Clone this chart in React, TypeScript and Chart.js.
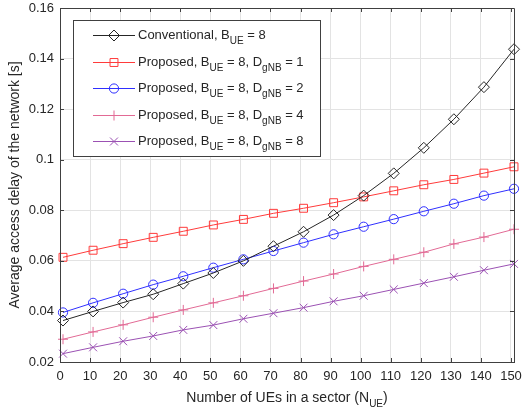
import React, { useEffect, useRef } from "react";
import { Chart, registerables } from "chart.js";

Chart.register(...registerables);

const xValues = [1, 11, 21, 31, 41, 51, 61, 71, 81, 91, 101, 111, 121, 131, 141, 151];
const conventional = [0.0364, 0.0400, 0.0435, 0.0468, 0.0510, 0.0552, 0.0600, 0.0658, 0.0715, 0.0781, 0.0858, 0.0946, 0.1047, 0.1160, 0.1287, 0.1437];
const proposedD1 = [0.0614, 0.0642, 0.0668, 0.0693, 0.0717, 0.0742, 0.0764, 0.0788, 0.0808, 0.0830, 0.0853, 0.0877, 0.0901, 0.0922, 0.0947, 0.0972];
const proposedD2 = [0.0396, 0.0434, 0.0470, 0.0506, 0.0539, 0.0573, 0.0606, 0.0639, 0.0672, 0.0705, 0.0735, 0.0765, 0.0796, 0.0826, 0.0858, 0.0885];
const proposedD4 = [0.0290, 0.0319, 0.0347, 0.0377, 0.0406, 0.0434, 0.0462, 0.0491, 0.0520, 0.0548, 0.0578, 0.0606, 0.0634, 0.0667, 0.0694, 0.0725];
const proposedD8 = [0.0233, 0.0258, 0.0282, 0.0303, 0.0327, 0.0346, 0.0371, 0.0393, 0.0415, 0.0440, 0.0462, 0.0487, 0.0512, 0.0537, 0.0563, 0.0588];

const xTicks = [0, 10, 20, 30, 40, 50, 60, 70, 80, 90, 100, 110, 120, 130, 140, 150];
const yTicks = [0.02, 0.04, 0.06, 0.08, 0.1, 0.12, 0.14, 0.16];

const xTitle: [string, string, string] = ["Number of UEs in a sector (N", "UE", ")"];
const yTitle = "Average access delay of the network [s]";

// legend label pieces: [text, isSubscript]
const legendLabels: Array<Array<[string, boolean]>> = [
  [["Conventional, B", false], ["UE", true], [" = 8", false]],
  [["Proposed, B", false], ["UE", true], [" = 8, D", false], ["gNB", true], [" = 1", false]],
  [["Proposed, B", false], ["UE", true], [" = 8, D", false], ["gNB", true], [" = 2", false]],
  [["Proposed, B", false], ["UE", true], [" = 8, D", false], ["gNB", true], [" = 4", false]],
  [["Proposed, B", false], ["UE", true], [" = 8, D", false], ["gNB", true], [" = 8", false]],
];

const seriesColors = ["#262626", "#ff3b3b", "#2f2fff", "#e26a95", "#9b51b3"];
const seriesStyles = ["rectRot", "rect", "circle", "cross", "crossRot"];
const seriesRadius = [5.5, 5.6, 4.6, 5, 5.6];

const FONT = "'Liberation Sans', Arial, Helvetica, sans-serif";
const TEXT = "#262626";
const AXIS = "#404040";

function drawRich(ctx: CanvasRenderingContext2D, pieces: Array<[string, boolean]>, x: number, y: number, size: number, subSize: number) {
  let cx = x;
  for (const [t, sub] of pieces) {
    ctx.font = `${sub ? subSize : size}px ${FONT}`;
    ctx.fillText(t, cx, sub ? y + 5 : y);
    cx += ctx.measureText(t).width;
  }
}

function drawMarker(ctx: CanvasRenderingContext2D, style: string, r: number, x: number, y: number, color: string) {
  ctx.save();
  ctx.strokeStyle = color;
  ctx.lineWidth = 1;
  ctx.beginPath();
  if (style === "rectRot") {
    ctx.moveTo(x, y - r);
    ctx.lineTo(x + r, y);
    ctx.lineTo(x, y + r);
    ctx.lineTo(x - r, y);
    ctx.closePath();
  } else if (style === "rect") {
    const s = r * Math.SQRT1_2;
    ctx.rect(x - s, y - s, 2 * s, 2 * s);
  } else if (style === "circle") {
    ctx.arc(x, y, r, 0, Math.PI * 2);
  } else if (style === "cross") {
    ctx.moveTo(x, y - r);
    ctx.lineTo(x, y + r);
    ctx.moveTo(x - r, y);
    ctx.lineTo(x + r, y);
  } else {
    const s = r * Math.SQRT1_2;
    ctx.moveTo(x - s, y - s);
    ctx.lineTo(x + s, y + s);
    ctx.moveTo(x - s, y + s);
    ctx.lineTo(x + s, y - s);
  }
  ctx.stroke();
  ctx.restore();
}

const decorPlugin = {
  id: "decor",
  afterDraw(chart: any) {
    const ctx: CanvasRenderingContext2D = chart.ctx;
    const area = chart.chartArea;
    const xs = chart.scales.x;
    const ys = chart.scales.y;
    ctx.save();
    // full box
    ctx.strokeStyle = AXIS;
    ctx.lineWidth = 1;
    ctx.beginPath();
    ctx.rect(Math.round(area.left) + 0.5, Math.round(area.top) + 0.5, Math.round(area.right - area.left), Math.round(area.bottom - area.top));
    ctx.stroke();
    // inward ticks
    ctx.beginPath();
    for (const v of xTicks) {
      const px = Math.round(xs.getPixelForValue(v)) + 0.5;
      ctx.moveTo(px, area.bottom);
      ctx.lineTo(px, area.bottom - 4);
      ctx.moveTo(px, area.top);
      ctx.lineTo(px, area.top + 4);
    }
    for (const v of yTicks) {
      const py = Math.round(ys.getPixelForValue(v)) + 0.5;
      ctx.moveTo(area.left, py);
      ctx.lineTo(area.left + 4, py);
      ctx.moveTo(area.right, py);
      ctx.lineTo(area.right - 4, py);
    }
    ctx.stroke();

    // x title
    ctx.fillStyle = TEXT;
    ctx.textBaseline = "alphabetic";
    ctx.textAlign = "left";
    const pieces: Array<[string, boolean]> = [[xTitle[0], false], [xTitle[1], true], [xTitle[2], false]];
    let w = 0;
    for (const [t, sub] of pieces) {
      ctx.font = `${sub ? 10 : 14}px ${FONT}`;
      w += ctx.measureText(t).width;
    }
    const cxm = (area.left + area.right) / 2;
    drawRich(ctx, pieces, cxm - w / 2, 402, 14, 10);

    // y title
    ctx.save();
    ctx.translate(19, (area.top + area.bottom) / 2);
    ctx.rotate(-Math.PI / 2);
    ctx.font = `14px ${FONT}`;
    ctx.textAlign = "center";
    ctx.fillText(yTitle, 0, 0);
    ctx.restore();

    // legend
    const lx = 73, ly = 20, lw = 247, lh = 136;
    ctx.fillStyle = "#ffffff";
    ctx.fillRect(lx, ly, lw, lh);
    ctx.strokeStyle = AXIS;
    ctx.strokeRect(lx + 0.5, ly + 0.5, lw, lh);
    const rowY = [35, 61.5, 88, 114.5, 141];
    for (let i = 0; i < legendLabels.length; i++) {
      const y = rowY[i];
      ctx.strokeStyle = seriesColors[i];
      ctx.lineWidth = 1;
      ctx.beginPath();
      ctx.moveTo(93, Math.round(y) + 0.5);
      ctx.lineTo(135, Math.round(y) + 0.5);
      ctx.stroke();
      drawMarker(ctx, seriesStyles[i], seriesRadius[i], 114, Math.round(y) + 0.5, seriesColors[i]);
      ctx.fillStyle = TEXT;
      drawRich(ctx, legendLabels[i], 138, y + 4, 13, 10);
    }
    ctx.restore();
  },
};

export default function App() {
  const ref = useRef<HTMLCanvasElement | null>(null);
  useEffect(() => {
    if (!ref.current) return;
    const seriesData = [conventional, proposedD1, proposedD2, proposedD4, proposedD8];
    const chart = new Chart(ref.current, {
      type: "line",
      data: {
        datasets: seriesData.map((vals, i) => ({
          label: "s" + i,
          data: vals.map((v, j) => ({ x: xValues[j], y: v })),
          borderColor: seriesColors[i],
          borderWidth: 1,
          pointStyle: seriesStyles[i] as any,
          pointRadius: seriesRadius[i],
          pointBorderColor: seriesColors[i],
          pointBackgroundColor: "rgba(0,0,0,0)",
          pointBorderWidth: 1,
          fill: false,
          tension: 0,
          clip: false as any,
        })),
      },
      options: {
        responsive: false,
        animation: false,
        devicePixelRatio: 1,
        layout: { padding: { top: 8, right: 9, left: 0, bottom: 0 } },
        plugins: { legend: { display: false }, tooltip: { enabled: false } },
        scales: {
          x: {
            type: "linear",
            min: 0,
            max: 151,
            afterFit: (s: any) => { s.height = 50; s.paddingLeft = 0; s.paddingRight = 0; },
            afterBuildTicks: (s: any) => { s.ticks = xTicks.map((v) => ({ value: v })); },
            ticks: {
              color: TEXT,
              font: { family: FONT, size: 13 },
              padding: 7,
              maxRotation: 0,
              autoSkip: false,
              callback: (v: any) => String(v),
            },
            grid: { color: "#e3e3e3", drawTicks: false },
            border: { color: AXIS },
          },
          y: {
            type: "linear",
            min: 0.02,
            max: 0.16,
            afterFit: (s: any) => { s.width = 60; s.paddingTop = 0; s.paddingBottom = 0; },
            afterBuildTicks: (s: any) => { s.ticks = yTicks.map((v) => ({ value: v })); },
            ticks: {
              color: TEXT,
              font: { family: FONT, size: 13 },
              padding: 6,
              autoSkip: false,
              callback: (v: any) => String(Number(Number(v).toFixed(2))),
            },
            grid: { color: "#e3e3e3", drawTicks: false },
            border: { color: AXIS },
          },
        },
      },
      plugins: [decorPlugin],
    });
    return () => chart.destroy();
  }, []);
  return (
    <div style={{ position: "fixed", left: 0, top: 0, width: 523, height: 412, background: "#fff" }}>
      <canvas ref={ref} width={523} height={412} />
    </div>
  );
}
